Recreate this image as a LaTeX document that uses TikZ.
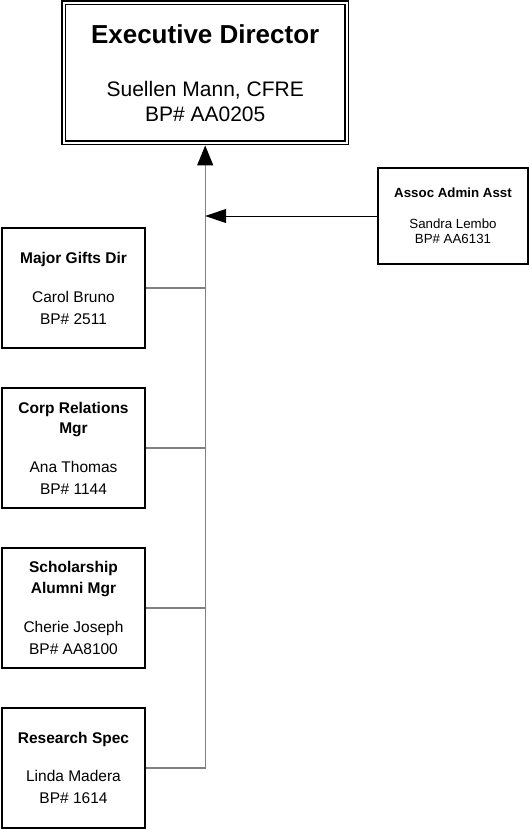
\documentclass[tikz,border=0pt]{standalone}
\usepackage{fontspec}
\setmainfont{Liberation Sans}
\usetikzlibrary{arrows.meta}

\tikzset{
  post/.style={draw, line width=1.8pt, minimum width=143pt, minimum height=120pt,
    inner sep=0pt, align=center, font=\fontsize{15.5}{22}\selectfont},
  head/.style={draw, double, line width=1.7pt, double distance=1.9pt, outer sep=2.65pt,
    minimum width=283pt, minimum height=140pt, inner sep=0pt, align=center,
    font=\fontsize{21}{25}\selectfont},
  link/.style={draw=gray, line width=1.4pt},
}

\begin{document}
\begin{tikzpicture}[x=1pt,y=-1pt]
\useasboundingbox (0,0) rectangle (530,830);

% Director
\node[head] (ed) at (205.2,72.8) {{\fontsize{26}{30}\selectfont\bfseries Executive Director}\\[28pt]
  Suellen Mann, CFRE\\ BP\# AA0205};

% Assistant
\node[post, minimum width=150pt, minimum height=96pt, font=\fontsize{13.3}{15}\selectfont] (aa)
  at (453,216) {\textbf{Assoc Admin Asst}\\[16pt] Sandra Lembo\\ BP\# AA6131};

% Staff
\node[post] (mg) at (73.5,288) {\textbf{Major Gifts Dir}\\[17pt] Carol Bruno\\ BP\# 2511};
\node[post] (cr) at (73.5,448) {\textbf{Corp Relations}\\[-2pt] \textbf{Mgr}\\[17pt] Ana Thomas\\ BP\# 1144};
\node[post] (sa) at (73.5,608) {\textbf{Scholarship}\\[-1pt] \textbf{Alumni Mgr}\\[17pt] Cherie Joseph\\ BP\# AA8100};
\node[post] (rs) at (73.5,768) {\textbf{Research Spec}\\[16pt] Linda Madera\\ BP\# 1614};

% Lines
\draw[link, -{Triangle[length=20pt, width=16pt, color=black]}] (rs.east) -| (ed.south);
\draw[link] (mg.east) -- (mg.east -| ed.south);
\draw[link] (cr.east) -- (cr.east -| ed.south);
\draw[link] (sa.east) -- (sa.east -| ed.south);
\draw[line width=1pt, -{Triangle[length=21pt, width=14pt]}] (aa.west) -- (aa.west -| ed.south);
\end{tikzpicture}
\end{document}
